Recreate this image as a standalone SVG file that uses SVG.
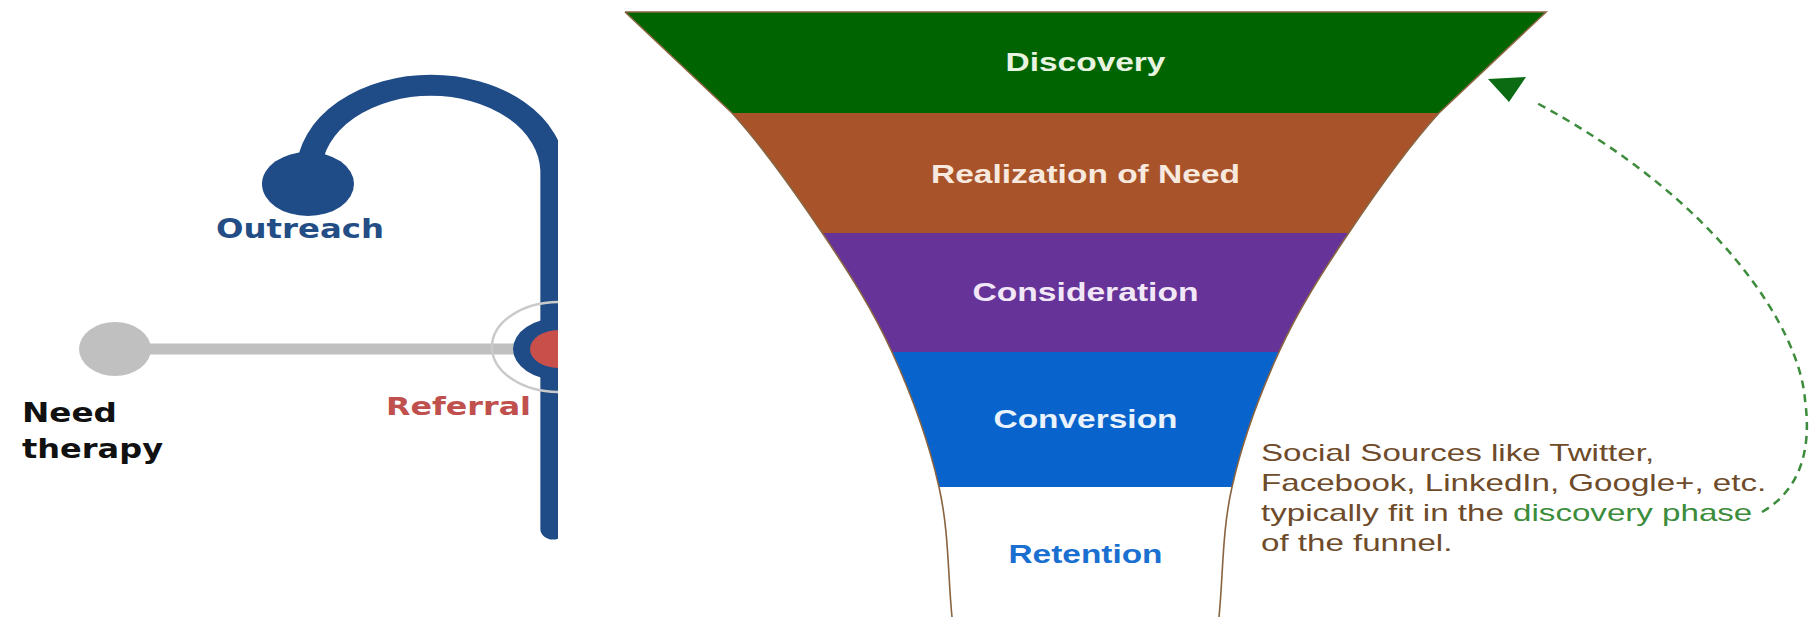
<svg xmlns="http://www.w3.org/2000/svg" width="1816" height="622" viewBox="0 0 1816 622">
  <style>
    .lbl { font-family: "DejaVu Sans", Verdana, sans-serif; font-weight: bold; }
    .fl { font-family: "Liberation Sans", Arial, sans-serif; font-weight: bold; font-size: 25px; text-anchor: middle; }
    .note { font-family: "Liberation Sans", Arial, sans-serif; font-size: 24px; fill: #6e4b2a; }
    .edge { fill: none; stroke: #8a6440; stroke-width: 1.6; }
  </style>
  <defs>
    <clipPath id="leftClip"><rect x="0" y="0" width="558" height="622"/></clipPath>
    <clipPath id="funnelClip">
      <path d="M 625 12 L 1546 12 L 1439 113 C 1408 147 1374.7 194.2 1348 234 C 1321.3 273.8 1298.3 309.8 1279 352 C 1259.7 394.2 1242 442.8 1232 487 C 1222 531.2 1223.3 573.7 1219 617 L 952 617 C 947.7 573.7 949 531.2 939 487 C 929 442.8 911.3 394.2 892 352 C 872.7 309.8 849.7 273.8 823 234 C 796.3 194.2 763 147 732 113 Z"/>
    </clipPath>
  </defs>
  <rect x="0" y="0" width="1816" height="622" fill="#ffffff"/>

  <!-- Left panel: care pathway -->
  <g id="pathway" clip-path="url(#leftClip)">
    <g id="connectors-left">
      <line x1="115" y1="349" x2="530" y2="349" stroke="#c0c0c0" stroke-width="11"/>
      <g transform="scale(1.2 1)">
        <path d="M 257.5 190 L 257.5 170 A 101.7 87.5 0 0 1 460.8 170 L 460.8 529" fill="none" stroke="#1f4b87" stroke-width="21" stroke-linecap="round"/>
      </g>
    </g>
    <g id="node-outreach">
      <ellipse cx="308" cy="184" rx="46" ry="32" fill="#1f4b87"/>
      <text class="lbl" x="216" y="238" font-size="27" textLength="168" lengthAdjust="spacingAndGlyphs" fill="#234d85">Outreach</text>
    </g>
    <g id="node-need">
      <ellipse cx="115" cy="349" rx="36" ry="27" fill="#c0c0c0"/>
      <text class="lbl" x="22" y="422" font-size="27" textLength="95" lengthAdjust="spacingAndGlyphs" fill="#111111">Need</text>
      <text class="lbl" x="22" y="458" font-size="27" textLength="141" lengthAdjust="spacingAndGlyphs" fill="#111111">therapy</text>
    </g>
    <g id="node-referral">
      <ellipse cx="559" cy="347" rx="67" ry="45" fill="none" stroke="#cacaca" stroke-width="2.5"/>
      <ellipse cx="559" cy="349" rx="46" ry="31" fill="#1f4b87"/>
      <ellipse cx="559" cy="349" rx="29" ry="19" fill="#c9504a"/>
      <text class="lbl" x="386" y="415" font-size="25" textLength="145" lengthAdjust="spacingAndGlyphs" fill="#c0504d">Referral</text>
    </g>
  </g>

  <!-- Right panel: funnel -->
  <g id="funnel">
    <g clip-path="url(#funnelClip)">
      <rect id="layer-discovery" x="600" y="0" width="1000" height="113" fill="#006400"/>
      <rect id="layer-realization" x="600" y="113" width="1000" height="120" fill="#a9532a"/>
      <rect id="layer-consideration" x="600" y="233" width="1000" height="119" fill="#663399"/>
      <rect id="layer-conversion" x="600" y="352" width="1000" height="135" fill="#0864cc"/>
      <rect id="layer-retention" x="600" y="487" width="1000" height="140" fill="#ffffff"/>
    </g>
    <path class="edge" d="M 625 12 L 1546 12 L 1439 113 C 1408 147 1374.7 194.2 1348 234 C 1321.3 273.8 1298.3 309.8 1279 352 C 1259.7 394.2 1242 442.8 1232 487 C 1222 531.2 1223.3 573.7 1219 617"/>
    <path class="edge" d="M 625 12 L 732 113 C 763 147 796.3 194.2 823 234 C 849.7 273.8 872.7 309.8 892 352 C 911.3 394.2 929 442.8 939 487 C 949 531.2 947.7 573.7 952 617"/>
    <g id="node-discovery"><text class="fl" x="1085.5" y="71" textLength="160" lengthAdjust="spacingAndGlyphs" fill="#e8f3e0">Discovery</text></g>
    <g id="node-realization"><text class="fl" x="1085.5" y="183" textLength="309" lengthAdjust="spacingAndGlyphs" fill="#f8e9de">Realization of Need</text></g>
    <g id="node-consideration"><text class="fl" x="1085.5" y="301" textLength="226" lengthAdjust="spacingAndGlyphs" fill="#f1e7f6">Consideration</text></g>
    <g id="node-conversion"><text class="fl" x="1085.5" y="428" textLength="184" lengthAdjust="spacingAndGlyphs" fill="#eaf2fb">Conversion</text></g>
    <g id="node-retention"><text class="fl" x="1085.5" y="563" textLength="154" lengthAdjust="spacingAndGlyphs" fill="#1a6fd0">Retention</text></g>
  </g>

  <!-- Annotation -->
  <g id="node-note" transform="translate(1261 0) scale(1.38 1)">
    <text class="note" x="0" y="461">Social Sources like Twitter,</text>
    <text class="note" x="0" y="491">Facebook, LinkedIn, Google+, etc.</text>
    <text class="note" x="0" y="521">typically fit in the <tspan fill="#3c8c3c">discovery phase</tspan></text>
    <text class="note" x="0" y="551">of the funnel.</text>
  </g>

  <!-- Connectors -->
  <g id="connectors">
    <path d="M 1762 512 C 1800 490 1812 450 1805 400 C 1800 330 1720 200 1533 101" fill="none" stroke="#3c8c3c" stroke-width="2.5" stroke-dasharray="8 6"/>
    <polygon points="1488,79 1526,77 1509,102" fill="#0b6b12"/>
  </g>
</svg>
